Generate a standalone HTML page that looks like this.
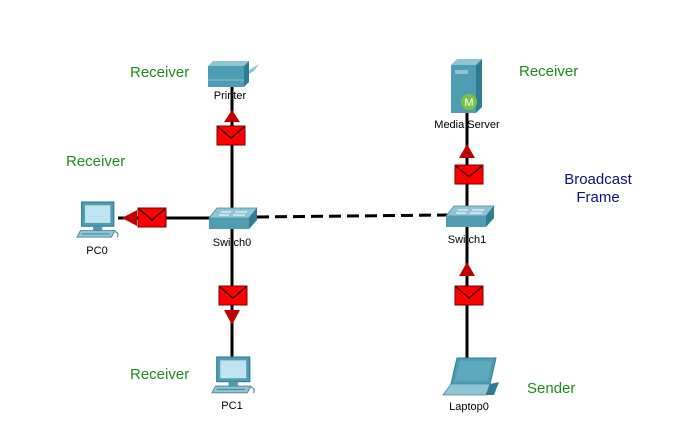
<!DOCTYPE html>
<html><head><meta charset="utf-8"><style>
html,body{margin:0;padding:0;background:#fff;}
svg{display:block;}
text{font-family:"Liberation Sans",Arial,sans-serif;}
</style></head><body>
<svg width="692" height="433" viewBox="0 0 692 433" xmlns="http://www.w3.org/2000/svg">
<defs>
<g id="env">
<rect x="0" y="0" width="28" height="19" fill="#ff0000" stroke="#700" stroke-width="1"/>
<polyline points="1,1 14,12 27,1" fill="none" stroke="#400" stroke-width="1.5"/>
</g>
<g id="sw">
<polygon points="8,0 48,0 40,10 0,10" fill="#8fc4d4" stroke="#4a8a9c" stroke-width="0.8"/>
<polygon points="0,10 40,10 40,21 0,21" fill="#4f9db3"/>
<polygon points="40,10 48,0 48,12 40,21" fill="#2f7d93"/>
<line x1="12" y1="4" x2="22" y2="4" stroke="#fff" stroke-width="1"/>
<line x1="26" y1="4" x2="38" y2="4" stroke="#fff" stroke-width="1"/>
<line x1="10" y1="7" x2="20" y2="7" stroke="#fff" stroke-width="1"/>
<line x1="24" y1="7" x2="36" y2="7" stroke="#fff" stroke-width="1"/>
</g>
<g id="pc">
<rect x="4" y="0" width="28" height="22" fill="#4f9db3" stroke="#2f7d93"/>
<rect x="7" y="3" width="22" height="16" fill="#bfe3f0"/>
<rect x="14" y="22" width="8" height="4" fill="#4f9db3"/>
<polygon points="3,26 33,26 30,32 0,32" fill="#8fc4d4" stroke="#4a8a9c" stroke-width="0.8"/>
<line x1="4" y1="29" x2="28" y2="29" stroke="#4a8a9c"/>
<path d="M33,27 q4,1 2,5" fill="none" stroke="#4a8a9c"/>
</g>
</defs>

<!-- lines -->
<line x1="232" y1="84" x2="232" y2="360" stroke="#000" stroke-width="3"/>
<line x1="118" y1="218" x2="232" y2="218" stroke="#000" stroke-width="3"/>
<line x1="257" y1="217" x2="448" y2="215" stroke="#000" stroke-width="3" stroke-dasharray="12,6"/>
<line x1="467" y1="110" x2="467" y2="360" stroke="#000" stroke-width="3"/>

<!-- printer -->
<rect x="208" y="66" width="36" height="21" fill="#4f9db3"/>
<polygon points="208,66 213,61 249,61 244,66" fill="#8fc4d4"/>
<polygon points="244,66 249,61 249,82 244,87" fill="#2f7d93"/>
<line x1="208" y1="80" x2="244" y2="80" stroke="#8fc4d4"/>
<polygon points="249,70 254,67 259,64 254,71 249,74" fill="#8fc4d4"/>
<text x="230" y="99" font-size="11" text-anchor="middle">Printer</text>

<!-- media server -->
<polygon points="451,65 457,59 482,59 476,65" fill="#8fc4d4"/>
<rect x="451" y="65" width="25" height="48" fill="#4f9db3"/>
<polygon points="476,65 482,59 482,107 476,113" fill="#2f7d93"/>
<rect x="455" y="70" width="13" height="4" fill="#8fc4d4"/>
<circle cx="469" cy="102" r="8" fill="#7cc242"/>
<text x="469" y="106" font-size="11" fill="#fff" text-anchor="middle">M</text>
<text x="467" y="128" font-size="11" text-anchor="middle">Media Server</text>

<!-- switches -->
<use href="#sw" x="209" y="208"/>
<text x="232" y="246" font-size="11" text-anchor="middle">Switch0</text>
<use href="#sw" x="446" y="206"/>
<text x="467" y="243" font-size="11" text-anchor="middle">Switch1</text>

<!-- PCs -->
<use href="#pc" transform="translate(77,202) scale(1.15,1.1)"/>
<text x="97" y="254" font-size="11" text-anchor="middle">PC0</text>
<use href="#pc" transform="translate(212,357) scale(1.18,1.12)"/>
<text x="232" y="409" font-size="11" text-anchor="middle">PC1</text>

<!-- laptop -->
<polygon points="457,358 496,358 490,384 451,384" fill="#4f9db3" stroke="#2f7d93"/>
<polygon points="460,361 492,361 487,381 455,381" fill="#5fa9bf"/>
<polygon points="451,384 490,384 486,395 443,395" fill="#8fc4d4" stroke="#4a8a9c" stroke-width="0.8"/>
<polygon points="490,384 499,382 494,395 486,395" fill="#2f7d93"/>
<text x="469" y="410" font-size="11" text-anchor="middle">Laptop0</text>

<!-- arrows & envelopes -->
<polygon points="232,110 224,122 240,122" fill="#c00000"/>
<use href="#env" x="217" y="126"/>
<polygon points="467,144 459,158 475,158" fill="#c00000"/>
<use href="#env" x="455" y="165"/>
<polygon points="467,262 459,276 475,276" fill="#c00000"/>
<use href="#env" x="455" y="286"/>
<use href="#env" x="219" y="286"/>
<polygon points="232,325 224,310 240,310" fill="#c00000"/>
<polygon points="122,218 137,210 137,226" fill="#c00000"/>
<use href="#env" x="138" y="208"/>

<!-- labels -->
<g font-size="15" fill="#1f8a1f">
<text x="130" y="77">Receiver</text>
<text x="66" y="166">Receiver</text>
<text x="519" y="76">Receiver</text>
<text x="130" y="379">Receiver</text>
<text x="527" y="393">Sender</text>
</g>
<g font-size="15" fill="#101080" text-anchor="middle">
<text x="598" y="184">Broadcast</text>
<text x="598" y="202">Frame</text>
</g>
</svg>
</body></html>
